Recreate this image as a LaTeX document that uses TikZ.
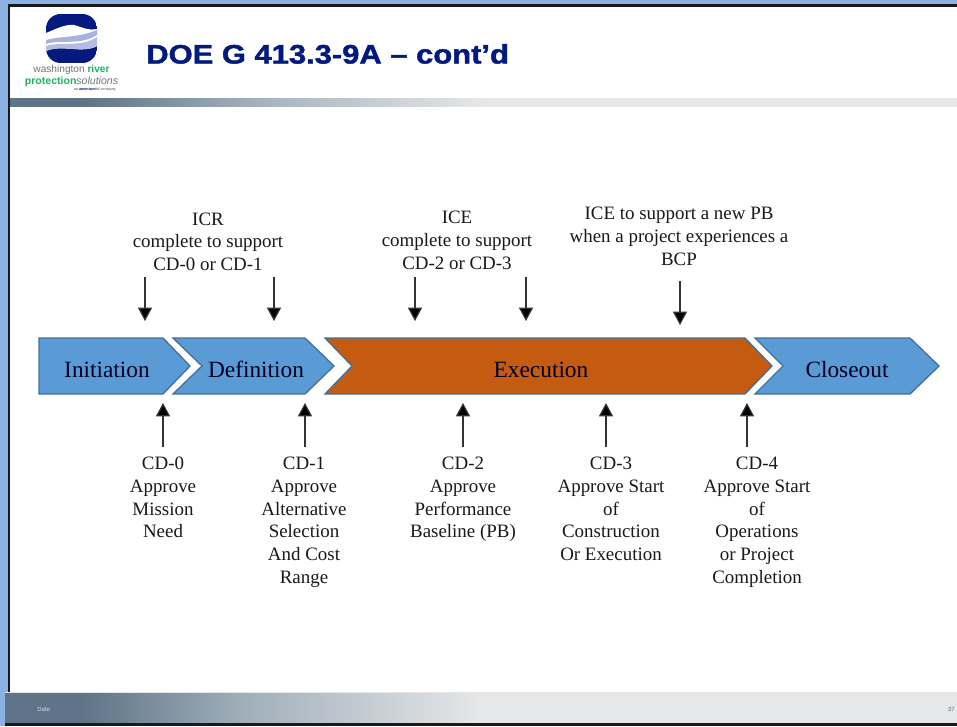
\documentclass[tikz,border=0pt]{standalone}
\usepackage{fontspec}
\setmainfont{Liberation Serif}
\newfontfamily\hfont{Liberation Sans}
\newfontfamily\tfont[FakeStretch=1.16,FakeBold=1.6]{Liberation Sans Bold}
\usetikzlibrary{arrows.meta}
\definecolor{pageblue}{HTML}{8CB1E3}
\definecolor{stageblue}{HTML}{5B9BD5}
\definecolor{stageedge}{HTML}{41719C}
\definecolor{stageorange}{HTML}{C55A11}
\definecolor{titlenavy}{HTML}{001A80}
\definecolor{logonavy}{HTML}{06197F}
\definecolor{logolav}{HTML}{A9B2DE}
\definecolor{logogreen}{HTML}{1DB45F}
\definecolor{barA}{HTML}{5F7488}
\definecolor{barB}{HTML}{A3B1BC}
\definecolor{barC}{HTML}{E6E7E8}
\pgfdeclarehorizontalshading{barshade}{100bp}{color(0bp)=(barA); color(29bp)=(barA); color(38bp)=(barB); color(50bp)=(barC); color(100bp)=(barC)}
\tikzset{
  x=0.75pt,y=-0.75pt,
  stage/.style={draw=stageedge,line width=1pt,fill=stageblue},
  stagetext/.style={font=\fontsize{17.5}{20}\selectfont,text=black!85!blue,inner sep=0pt,anchor=base},
  lbl/.style={font=\fontsize{14.2}{17}\selectfont,align=center,inner sep=0pt,anchor=north,text=black!90},
  tick/.style={-{Triangle[length=10pt,width=10.5pt,fill=black]},line width=0.9pt,black!80},
  bar/.style={shading=barshade,shading angle=0},
}
\begin{document}
\begin{tikzpicture}
\useasboundingbox (0,0) rectangle (957,726);
% page
\fill[pageblue] (0,0) rectangle (957,726);
\fill[black!90] (8,4) rectangle (957,726);
\fill[white] (10,7) rectangle (957,723);
% header and footer bars
\shade[bar] (10,98) rectangle (957,106.5);
\fill[black!90] (5,721) rectangle (957,726);
\fill[white!90!black] (5,692) rectangle (957,693.5);
\shade[bar] (5,693.5) rectangle (957,722);
% logo
\begin{scope}
\clip[rounded corners=11pt] (46,14) rectangle (97,63);
\fill[logonavy] (46,14) rectangle (97,63);
\fill[white] (46,33) .. controls (58,28) and (66,24) .. (74,25) .. controls (82,27) and (88,31) .. (97,29)
  -- (97,46) .. controls (82,54) and (62,44) .. (46,51) -- cycle;
\fill[logolav] (46,40) .. controls (60,36) and (78,38) .. (97,30) -- (97,35) .. controls (80,46) and (60,39) .. (46,44) -- cycle;
\fill[logolav!85!white] (46,46) .. controls (62,41) and (80,48) .. (97,37) -- (97,46) .. controls (82,54) and (62,44) .. (46,51) -- cycle;
\end{scope}
\node[inner sep=0pt,anchor=center] (logoa) at (71.5,70) {\hfont\fontsize{7.6}{9}\selectfont\textcolor{black!55}{washington }\textcolor{logogreen}{\bfseries river}};
\node[inner sep=0pt,anchor=center] (logob) at (71.5,81.5) {\hfont\fontsize{7.9}{9}\selectfont\textcolor{logogreen}{\bfseries protection}\textcolor{black!55}{\itshape solutions}};
\node[inner sep=0pt,anchor=east] (logoc) at (116,90) {\hfont\fontsize{2.8}{3}\selectfont\textcolor{black!70}{an }\textcolor{logonavy}{\bfseries amentum}\textcolor{black!70}{ ltd company}};
% title
\node[inner sep=0pt,anchor=west,text=titlenavy] (title) at (146,54) {\tfont\fontsize{20}{24}\selectfont DOE G 413.3-9A – cont’d};
% footer
\node[inner sep=0pt,text=white!85!black,anchor=west] (fdate) at (37,709) {\hfont\fontsize{4.5}{5}\selectfont Date};
\node[inner sep=0pt,text=black!60,anchor=east] (fnum) at (955,709) {\hfont\fontsize{4.5}{5}\selectfont 37};
% stages
\fill[stage] (39,338) -- (163,338) -- (190,366) -- (163,394) -- (39,394) -- cycle;
\fill[stage] (173,338) -- (305,338) -- (334,366) -- (305,394) -- (173,394) -- (202,366) -- cycle;
\fill[stage,fill=stageorange,draw=stageedge] (325,338) -- (745,338) -- (772,366) -- (745,394) -- (325,394) -- (352,366) -- cycle;
\fill[stage] (755,338) -- (910,338) -- (939,366) -- (910,394) -- (755,394) -- (783,366) -- cycle;
\node[stagetext] (init) at (107,377) {Initiation};
\node[stagetext] (defn) at (256,377) {Definition};
\node[stagetext] (exec) at (541,377) {Execution};
\node[stagetext] (clos) at (847,377) {Closeout};
% upper labels
\node[lbl] (icr) at (208,212.5) {ICR\\complete to support\\CD-0 or CD-1};
\node[lbl] (ice) at (457,211) {ICE\\complete to support\\CD-2 or CD-3};
\node[lbl] (pb) at (679,207) {ICE to support a new PB\\when a project experiences a\\BCP};
% lower labels
\node[lbl] (cd0) at (163,457) {CD-0\\Approve\\Mission\\Need};
\node[lbl] (cd1) at (304,457) {CD-1\\Approve\\Alternative\\Selection\\And Cost\\Range};
\node[lbl] (cd2) at (463,457) {CD-2\\Approve\\Performance\\Baseline (PB)};
\node[lbl] (cd3) at (611,457) {CD-3\\Approve Start\\of\\Construction\\Or Execution};
\node[lbl] (cd4) at (757,457) {CD-4\\Approve Start\\of\\Operations\\or Project\\Completion};
% arrow ends
\foreach \n/\x/\a/\b in {da/145/277/321,db/274/277/321,dc/415/277/321,dd/526/277/321,de/680/281/325,
    ua/163/447/403,ub/305/447/403,uc/463/447/403,ud/606/447/403,ue/747/447/403}{
  \coordinate (\n s) at (\x,\a);
  \coordinate (\n e) at (\x,\b);
  \draw[tick] (\n s) -- (\n e);
}
\end{tikzpicture}
\end{document}
